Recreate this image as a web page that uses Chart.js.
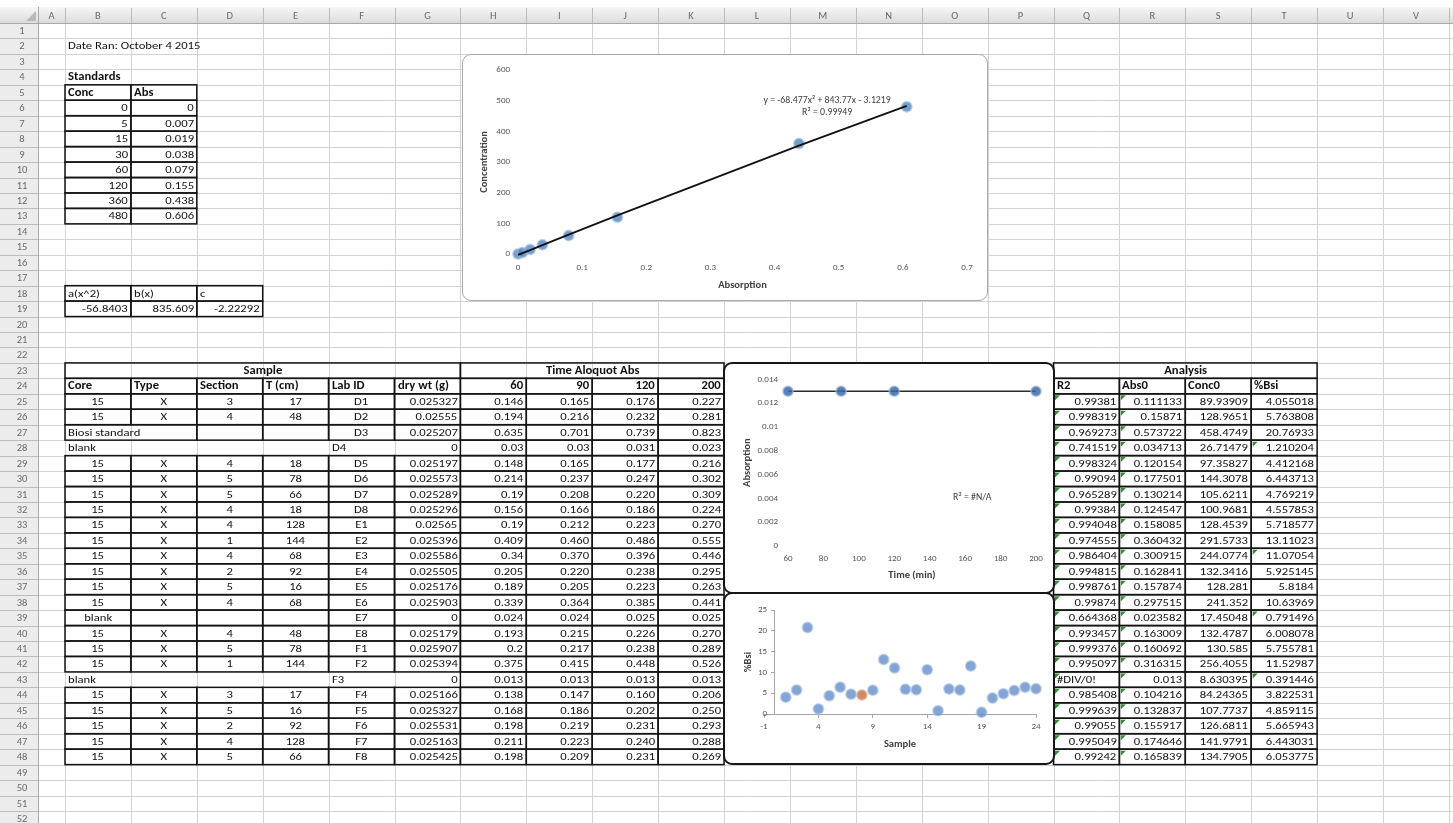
<!DOCTYPE html>
<html>
<head>
<meta charset="utf-8">
<title>Biosi run – October 4 2015</title>
<script src="https://cdn.jsdelivr.net/npm/chart.js@4.4.1/dist/chart.umd.min.js"></script>
<style>
  html, body { margin: 0; padding: 0; background: #fff; }
  #sheet { position: relative; width: 1453px; height: 823px; overflow: hidden; font-family: Carlito, Lato, sans-serif; }
  #grid { position: absolute; left: 0; top: 0; }
  .cell { position: absolute; height: 15.45px; line-height: 15.45px; font-size: 11px; color: #111;
          white-space: nowrap; padding: 0 3px; box-sizing: border-box; overflow: visible; }
  .cell span { display: inline-block; transform: scaleX(1.15); }
  .hdr { position: absolute; font-size: 10.5px; color: #6a6a6a; text-align: center; white-space: nowrap; }
  .chart-box { position: absolute; background: #fff; box-sizing: border-box; }
  #box-std  { left: 462px; top: 54px; width: 526px; height: 247px; border: 1px solid #a9a9a9; border-radius: 9px; }
  #box-time { left: 723px; top: 362px; width: 332px; height: 232px; border: 2px solid #161616; border-radius: 9px; }
  #box-bsi  { left: 723px; top: 592px; width: 332px; height: 173px; border: 2px solid #161616; border-radius: 9px; }
</style>
</head>
<body>
<div id="sheet">
  <canvas id="grid" width="1453" height="823"></canvas>
  <div class="chart-box" id="box-std"><canvas id="chart-std"></canvas></div>
  <div class="chart-box" id="box-time"><canvas id="chart-time"></canvas></div>
  <div class="chart-box" id="box-bsi"><canvas id="chart-bsi"></canvas></div>
</div>
<script>
// ---- standards (calibration) ----
const standardsConc = [0, 5, 15, 30, 60, 120, 360, 480];
const standardsAbs  = [0, 0.007, 0.019, 0.038, 0.079, 0.155, 0.438, 0.606];
const sheetCoef     = ['-56.8403', '835.609', '-2.22292'];   // a(x^2), b(x), c
const trendCoef     = [-68.477, 843.77, -3.1219];            // chart trendline
const trendR2       = '0.99949';

// ---- samples, rows 25-48 ----
const core    = ['15','15','Biosi standard','blank','15','15','15','15','15','15','15','15','15','15','blank','15','15','15','blank','15','15','15','15','15'];
const type    = ['X','X','','','X','X','X','X','X','X','X','X','X','X','','X','X','X','','X','X','X','X','X'];
const section = ['3','4','','','4','5','5','4','4','1','4','2','5','4','','4','5','1','','3','5','2','4','5'];
const depthCm = ['17','48','','','18','78','66','18','128','144','68','92','16','68','','48','78','144','','17','16','92','128','66'];
const labId   = ['D1','D2','D3','D4','D5','D6','D7','D8','E1','E2','E3','E4','E5','E6','E7','E8','F1','F2','F3','F4','F5','F6','F7','F8'];
const dryWt   = ['0.025327','0.02555','0.025207','0','0.025197','0.025573','0.025289','0.025296','0.02565','0.025396','0.025586','0.025505','0.025176','0.025903','0','0.025179','0.025907','0.025394','0','0.025166','0.025327','0.025531','0.025163','0.025425'];

// ---- time aliquot absorbance ----
const timeMin = [60, 90, 120, 200];
const abs60  = ['0.146','0.194','0.635','0.03','0.148','0.214','0.19','0.156','0.19','0.409','0.34','0.205','0.189','0.339','0.024','0.193','0.2','0.375','0.013','0.138','0.168','0.198','0.211','0.198'];
const abs90  = ['0.165','0.216','0.701','0.03','0.165','0.237','0.208','0.166','0.212','0.460','0.370','0.220','0.205','0.364','0.024','0.215','0.217','0.415','0.013','0.147','0.186','0.219','0.223','0.209'];
const abs120 = ['0.176','0.232','0.739','0.031','0.177','0.247','0.220','0.186','0.223','0.486','0.396','0.238','0.223','0.385','0.025','0.226','0.238','0.448','0.013','0.160','0.202','0.231','0.240','0.231'];
const abs200 = ['0.227','0.281','0.823','0.023','0.216','0.302','0.309','0.224','0.270','0.555','0.446','0.295','0.263','0.441','0.025','0.270','0.289','0.526','0.013','0.206','0.250','0.293','0.288','0.269'];

// ---- analysis ----
const r2     = ['0.99381','0.998319','0.969273','0.741519','0.998324','0.99094','0.965289','0.99384','0.994048','0.974555','0.986404','0.994815','0.998761','0.99874','0.664368','0.993457','0.999376','0.995097','#DIV/0!','0.985408','0.999639','0.99055','0.995049','0.99242'];
const abs0   = ['0.111133','0.15871','0.573722','0.034713','0.120154','0.177501','0.130214','0.124547','0.158085','0.360432','0.300915','0.162841','0.157874','0.297515','0.023582','0.163009','0.160692','0.316315','0.013','0.104216','0.132837','0.155917','0.174646','0.165839'];
const conc0  = ['89.93909','128.9651','458.4749','26.71479','97.35827','144.3078','105.6211','100.9681','128.4539','291.5733','244.0774','132.3416','128.281','241.352','17.45048','132.4787','130.585','256.4055','8.630395','84.24365','107.7737','126.6811','141.9791','134.7905'];
const pctBsi = ['4.055018','5.763808','20.76933','1.210204','4.412168','6.443713','4.769219','4.557853','5.718577','13.11023','11.07054','5.925145','5.8184','10.63969','0.791496','6.008078','5.755781','11.52987','0.391446','3.822531','4.859115','5.665943','6.443031','6.053775'];
const sampleNo = [1,2,3,4,5,6,7,8,9,10,11,12,13,14,15,16,17,18,19,20,21,22,23,24];
const flaggedSample = 8;
const plottedLabId = 'F3';

// ---- tick labels ----
const absTicks    = [0, 0.1, 0.2, 0.3, 0.4, 0.5, 0.6, 0.7];
const concTicks   = [0, 100, 200, 300, 400, 500, 600];
const timeTicks   = [60, 80, 100, 120, 140, 160, 180, 200];
const absSmTicks  = [0, 0.002, 0.004, 0.006, 0.008, 0.01, 0.012, 0.014];
const sampleTicks = [-1, 4, 9, 14, 19, 24];
const bsiTicks    = [0, 5, 10, 15, 20, 25];

// =================== sheet ===================
const COLS = 'ABCDEFGHIJKLMNOPQRSTUV'.split('');
const ROW_TOP = 23, ROW_H = 15.45, COL_W = 65.9;
const colLeft = i => (i === 0 ? 38 : 65 + (i - 1) * COL_W);
const rowTop = r => ROW_TOP + (r - 1) * ROW_H;
const ci = name => COLS.indexOf(name);

const sheet = document.getElementById('sheet');
const g = document.getElementById('grid').getContext('2d');

// header band
const hg = g.createLinearGradient(0, 7, 0, 23);
hg.addColorStop(0, '#f6f6f6'); hg.addColorStop(1, '#dcdcdc');
g.fillStyle = hg; g.fillRect(0, 7, 1453, 16);
g.fillStyle = '#ececec'; g.fillRect(0, 23, 38, 800);

// light cell grid
g.strokeStyle = '#d3d3d3'; g.lineWidth = 1;
for (let r = 1; r <= 53; r++) {
  const y = Math.round(rowTop(r)) + 0.5;
  g.beginPath(); g.moveTo(38, y); g.lineTo(1453, y); g.stroke();
}
for (let i = 0; i <= COLS.length; i++) {
  const x = Math.round(colLeft(i)) + 0.5;
  g.beginPath(); g.moveTo(x, 23); g.lineTo(x, 823); g.stroke();
}
// header separators
g.strokeStyle = '#bdbdbd';
for (let i = 0; i <= COLS.length; i++) {
  const x = Math.round(colLeft(i)) + 0.5;
  g.beginPath(); g.moveTo(x, 8); g.lineTo(x, 23); g.stroke();
}
for (let r = 1; r <= 53; r++) {
  const y = Math.round(rowTop(r)) + 0.5;
  g.beginPath(); g.moveTo(0, y); g.lineTo(38, y); g.stroke();
}
g.strokeStyle = '#a8a8a8';
g.beginPath(); g.moveTo(0, 23.5); g.lineTo(1453, 23.5); g.stroke();
g.beginPath(); g.moveTo(38.5, 7); g.lineTo(38.5, 823); g.stroke();
// corner triangle
g.fillStyle = '#b9b9b9';
g.beginPath(); g.moveTo(36, 11); g.lineTo(36, 21); g.lineTo(26, 21); g.closePath(); g.fill();

function hdr(text, x, y, w) {
  const d = document.createElement('div');
  d.className = 'hdr';
  d.style.left = x + 'px'; d.style.top = y + 'px'; d.style.width = w + 'px';
  d.style.height = '15px'; d.style.lineHeight = '15px';
  d.textContent = text;
  sheet.appendChild(d);
}
COLS.forEach((c, i) => hdr(c, colLeft(i), 8, colLeft(i + 1) - colLeft(i)));
for (let r = 1; r <= 52; r++) hdr(String(r), 6, rowTop(r), 32);

// cell borders
g.strokeStyle = '#141414'; g.lineWidth = 1.5;
function box(c, r, span = 1) {
  const x0 = colLeft(c), x1 = colLeft(c + span), y0 = rowTop(r), y1 = rowTop(r + 1);
  g.strokeRect(x0, y0, x1 - x0, y1 - y0);
}
function tick(c, r) {
  const x = colLeft(c) + 1.5, y = rowTop(r) + 1.5;
  g.fillStyle = '#2f8f35';
  g.beginPath(); g.moveTo(x, y); g.lineTo(x + 5, y); g.lineTo(x, y + 5); g.closePath(); g.fill();
}

// cell text, widened a little like the sheet's font
function put(c, r, text, o = {}) {
  const d = document.createElement('div');
  d.className = 'cell';
  const span = o.span || 1;
  const align = o.align || 'left';
  d.style.left = colLeft(c) + 'px';
  d.style.top = rowTop(r) + 'px';
  d.style.width = (colLeft(c + span) - colLeft(c)) + 'px';
  d.style.textAlign = align;
  if (o.bold) d.style.fontWeight = 'bold';
  const s = document.createElement('span');
  s.style.transformOrigin = align === 'right' ? '100% 50%' : align === 'center' ? '50% 50%' : '0 50%';
  s.textContent = text;
  d.appendChild(s);
  sheet.appendChild(d);
}

const B = ci('B'), C = ci('C'), D = ci('D'), E = ci('E'), F = ci('F'), G = ci('G');
const H = ci('H'), Q = ci('Q');

put(B, 2, 'Date Ran: October 4 2015', { span: 3 });
put(B, 4, 'Standards', { bold: true });
put(B, 5, 'Conc', { bold: true }); put(C, 5, 'Abs', { bold: true });
box(B, 5); box(C, 5);
standardsConc.forEach((v, i) => {
  const r = 6 + i;
  box(B, r); box(C, r);
  put(B, r, String(v), { align: 'right' });
  put(C, r, String(standardsAbs[i]), { align: 'right' });
});
['a(x^2)', 'b(x)', 'c'].forEach((t, k) => {
  box(B + k, 18); box(B + k, 19);
  put(B + k, 18, t);
  put(B + k, 19, sheetCoef[k], { align: 'right' });
});

// section headers
box(B, 23, 6); put(B, 23, 'Sample', { span: 6, align: 'center', bold: true });
box(H, 23, 4); put(H, 23, 'Time Aloquot Abs', { span: 4, align: 'center', bold: true });
box(Q, 23, 4); put(Q, 23, 'Analysis', { span: 4, align: 'center', bold: true });
['Core', 'Type', 'Section', 'T (cm)', 'Lab ID', 'dry wt (g)'].forEach((t, k) => {
  box(B + k, 24); put(B + k, 24, t, { bold: true });
});
timeMin.forEach((t, k) => { box(H + k, 24); put(H + k, 24, String(t), { bold: true, align: 'right' }); });
['R2', 'Abs0', 'Conc0', '%Bsi'].forEach((t, k) => { box(Q + k, 24); put(Q + k, 24, t, { bold: true }); });

const plainRows = ['D4', 'F3'];
const bsiTicked = ['D4', 'E3', 'E7', 'F3'];
labId.forEach((id, i) => {
  const r = 25 + i;
  const plain = plainRows.includes(id);
  if (core[i] === 'Biosi standard') {
    box(B, r, 2); box(D, r); box(E, r); box(F, r); box(G, r);
    put(B, r, core[i], { span: 2 });
    put(F, r, id, { align: 'center' });
  } else if (plain) {
    put(B, r, core[i]);
    put(F, r, id);
  } else {
    [B, C, D, E, F, G].forEach(c => box(c, r));
    put(B, r, core[i], { align: 'center' });
    put(C, r, type[i], { align: 'center' });
    put(D, r, section[i], { align: 'center' });
    put(E, r, depthCm[i], { align: 'center' });
    put(F, r, id, { align: 'center' });
  }
  put(G, r, dryWt[i], { align: 'right' });
  [abs60, abs90, abs120, abs200].forEach((col, k) => { box(H + k, r); put(H + k, r, col[i], { align: 'right' }); });
  [r2, abs0, conc0, pctBsi].forEach((col, k) => {
    box(Q + k, r);
    put(Q + k, r, col[i], { align: col[i].startsWith('#') ? 'left' : 'right' });
  });
  tick(Q, r); tick(Q + 1, r);
  if (bsiTicked.includes(id)) tick(Q + 3, r);
});

// =================== charts ===================
const FONT = 'Carlito, Lato, sans-serif';
Chart.defaults.font.family = FONT;
Chart.defaults.font.size = 9;
Chart.defaults.color = '#555';
Chart.defaults.animation = false;

// text notes placed in data space (trendline equation / R²)
const noteLabels = {
  id: 'noteLabels',
  afterDatasetsDraw(chart, args, opts) {
    const { ctx, scales } = chart;
    ctx.save();
    ctx.font = '9.8px ' + FONT;
    ctx.fillStyle = '#404040';
    ctx.textAlign = 'center';
    ctx.textBaseline = 'middle';
    (opts.lines || []).forEach(l => ctx.fillText(l.text, scales.x.getPixelForValue(l.x), scales.y.getPixelForValue(l.y)));
    ctx.restore();
  }
};

const fixedTicks = arr => s => { s.ticks = arr.map(value => ({ value })); };
const bold = { weight: 'bold', size: 10.5 };
const blue = 'rgba(79,129,189,0.78)';
const blueHalo = 'rgba(160,188,222,0.55)';

// calibration curve
const fmt = n => String(Math.abs(n));
const eqText = `y = ${trendCoef[0]}x² + ${trendCoef[1]}x - ${fmt(trendCoef[2])}`;
new Chart(document.getElementById('chart-std'), {
  type: 'scatter',
  data: {
    datasets: [
      {
        data: standardsAbs.map(x => ({ x, y: trendCoef[0] * x * x + trendCoef[1] * x + trendCoef[2] })),
        showLine: true, borderColor: '#111', borderWidth: 1.8, pointRadius: 0, clip: false
      },
      {
        data: standardsAbs.map((x, i) => ({ x, y: standardsConc[i] })),
        pointRadius: 5, backgroundColor: blue, borderColor: blueHalo, borderWidth: 2, clip: false
      }
    ]
  },
  options: {
    responsive: true, maintainAspectRatio: false,
    layout: { padding: { top: 15, right: 20, left: 0, bottom: 0 } },
    plugins: {
      legend: { display: false }, tooltip: { enabled: false },
      noteLabels: { lines: [{ text: eqText, x: 0.482, y: 499 }, { text: 'R² = ' + trendR2, x: 0.482, y: 461 }] }
    },
    scales: {
      x: {
        type: 'linear', min: 0, max: 0.7,
        grid: { display: false, drawTicks: false }, border: { display: false },
        afterBuildTicks: fixedTicks(absTicks),
        afterFit: s => { s.height = 46; },
        ticks: { padding: 8, autoSkip: false, maxRotation: 0, callback: v => String(+v.toFixed(1)) },
        title: { display: true, text: 'Absorption', font: bold, color: '#404040', padding: { top: 0, bottom: 8.6 } }
      },
      y: {
        type: 'linear', min: 0, max: 600,
        grid: { display: false, drawTicks: false }, border: { display: false },
        afterBuildTicks: fixedTicks(concTicks),
        afterFit: s => { s.width = 55; },
        ticks: { padding: 8, autoSkip: false },
        title: { display: true, text: 'Concentration', font: bold, color: '#404040', padding: { top: 14.6, bottom: 0 } }
      }
    }
  },
  plugins: [noteLabels]
});

// absorbance over time for the plotted aliquot
const row = labId.indexOf(plottedLabId);
const timeAbs = [abs60, abs90, abs120, abs200].map(col => Number(col[row]));
new Chart(document.getElementById('chart-time'), {
  type: 'scatter',
  data: {
    datasets: [{
      data: timeMin.map((x, i) => ({ x, y: timeAbs[i] })),
      showLine: true, borderColor: '#2b2b2b', borderWidth: 1.6,
      pointRadius: 5, pointBackgroundColor: 'rgba(60,104,168,0.85)', pointBorderColor: blueHalo, pointBorderWidth: 2,
      clip: false
    }]
  },
  options: {
    responsive: true, maintainAspectRatio: false,
    layout: { padding: { top: 14, right: 17, left: 0, bottom: 0 } },
    plugins: {
      legend: { display: false }, tooltip: { enabled: false },
      noteLabels: { lines: [{ text: 'R² = #N/A', x: 164, y: 0.0041 }] }
    },
    scales: {
      x: {
        type: 'linear', min: 60, max: 200,
        grid: { display: false, drawTicks: false }, border: { display: false },
        afterBuildTicks: fixedTicks(timeTicks),
        afterFit: s => { s.height = 46; },
        ticks: { padding: 7, autoSkip: false, maxRotation: 0 },
        title: { display: true, text: 'Time (min)', font: bold, color: '#404040', padding: { top: 0, bottom: 10.6 } }
      },
      y: {
        type: 'linear', min: 0, max: 0.014,
        grid: { display: false, drawTicks: false }, border: { display: false },
        afterBuildTicks: fixedTicks(absSmTicks),
        afterFit: s => { s.width = 63; },
        ticks: { padding: 10, autoSkip: false, callback: v => String(+v.toFixed(3)) },
        title: { display: true, text: 'Absorption', font: bold, color: '#404040', padding: { top: 15.6, bottom: 0 } }
      }
    }
  },
  plugins: [noteLabels]
});

// %Bsi per sample; the y axis line crosses at sample 0, its labels come from a
// mirrored left axis so they can sit just left of that line
const measure = document.createElement('canvas').getContext('2d');
measure.font = '9px ' + FONT;
const widestBsi = Math.max(...bsiTicks.map(t => measure.measureText(String(t)).width));
const bsiPoints = sampleNo.map((x, i) => ({ x, y: Number(pctBsi[i]) }));
new Chart(document.getElementById('chart-bsi'), {
  type: 'scatter',
  data: {
    datasets: [
      {
        data: bsiPoints.filter(p => p.x === flaggedSample), yAxisID: 'y',
        pointRadius: 5, backgroundColor: 'rgba(196,120,76,0.85)', borderColor: 'rgba(226,176,140,0.55)', borderWidth: 2, clip: false
      },
      {
        data: bsiPoints.filter(p => p.x !== flaggedSample), yAxisID: 'y',
        pointRadius: 5, backgroundColor: 'rgba(100,141,202,0.8)', borderColor: blueHalo, borderWidth: 2, clip: false
      }
    ]
  },
  options: {
    responsive: true, maintainAspectRatio: false,
    layout: { padding: { top: 16, right: 17, left: 0, bottom: 0 } },
    plugins: { legend: { display: false }, tooltip: { enabled: false } },
    scales: {
      x: {
        type: 'linear', position: 'bottom', min: -1, max: 24,
        grid: { drawOnChartArea: false, drawTicks: true, tickLength: 4, color: '#a6a6a6' },
        border: { display: true, color: '#a6a6a6' },
        afterBuildTicks: fixedTicks(sampleTicks),
        afterFit: s => { s.height = 49; },
        ticks: { padding: 3, autoSkip: false, maxRotation: 0 },
        title: { display: true, text: 'Sample', font: bold, color: '#404040', padding: { top: 0, bottom: 12.6 } }
      },
      y: {
        type: 'linear', position: { x: 0 }, min: 0, max: 25,
        grid: { drawOnChartArea: false, drawTicks: true, tickLength: 3, color: '#a6a6a6' },
        border: { display: true, color: '#a6a6a6' },
        afterBuildTicks: fixedTicks(bsiTicks),
        ticks: { display: false }
      },
      yLabels: {
        type: 'linear', position: 'left', min: 0, max: 25,
        grid: { display: false, drawTicks: false }, border: { display: false },
        afterBuildTicks: fixedTicks(bsiTicks),
        afterFit: s => { s.width = 39; },
        ticks: { mirror: true, crossAlign: 'far', padding: 3 - widestBsi, autoSkip: false },
        title: { display: true, text: '%Bsi', font: bold, color: '#404040', padding: { top: 16.6, bottom: 0 } }
      }
    }
  }
});
</script>
</body>
</html>
